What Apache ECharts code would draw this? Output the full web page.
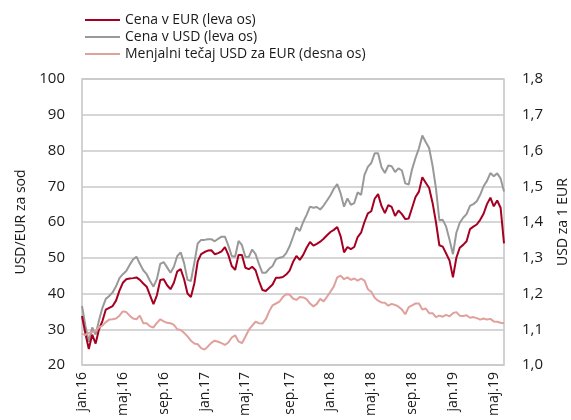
<!DOCTYPE html>
<html>
<head>
<meta charset="utf-8">
<script src="https://cdn.jsdelivr.net/npm/echarts@6/dist/echarts.min.js"></script>
<style>
  html, body { margin: 0; padding: 0; background: #fff; }
  #chart { width: 571px; height: 420px; }
</style>
</head>
<body>
<div id="chart"></div>
<script>
// one value every 10 days, starting 4 Jan 2016
var startDate = '2016-01-04';
var stepDays = 10;

// cena nafte Brent v USD za sod (leva os)
var priceUsd = [
  36.5, 31.0, 26.5, 30.5, 28.5, 32.5, 36.0, 38.5, 39.3, 40.3,
  42.0, 44.3, 45.4, 46.3, 48.0, 49.5, 50.3, 48.3, 46.5, 45.4,
  43.5, 41.9, 44.0, 48.3, 48.8, 47.3, 45.8, 47.5, 50.5, 51.5,
  48.5, 43.8, 43.5, 48.5, 54.0, 55.0, 55.0, 55.2, 55.2, 54.6,
  55.3, 55.9, 55.9, 53.4, 50.5, 50.3, 54.7, 53.5, 50.3, 50.2,
  52.3, 51.0, 48.2, 45.8, 45.8, 46.9, 47.7, 49.6, 50.0, 50.2,
  51.3, 53.2, 55.8, 58.5, 57.5, 60.0, 62.0, 64.3, 64.0, 64.2,
  63.5, 64.6, 66.0, 67.5, 69.3, 70.6, 68.0, 64.3, 66.6, 64.8,
  65.3, 68.3, 67.6, 73.2, 75.4, 76.5, 79.2, 79.2, 75.3, 73.7,
  75.8, 75.6, 74.0, 75.0, 74.4, 70.8, 70.5, 74.8, 77.9, 80.6,
  84.2, 82.4, 80.7, 75.8, 69.5, 60.5, 60.6, 58.7, 55.0, 51.0,
  57.0, 59.8, 61.2, 62.2, 64.5, 65.0, 65.8, 67.6, 70.0, 71.5,
  73.7, 72.8, 73.6, 72.2, 68.5
];

// cena v EUR za sod (leva os)
var priceEur = [
  33.7, 28.8, 24.5, 28.5, 26.0, 30.0, 32.3, 35.5, 36.0, 36.5,
  38.0, 40.8, 43.0, 44.0, 44.2, 44.3, 44.5, 43.8, 42.8, 41.9,
  39.5, 37.0, 39.5, 43.8, 44.0, 42.3, 41.2, 43.0, 46.2, 46.8,
  44.0, 40.0, 39.0, 42.8, 49.0, 51.0, 51.6, 52.0, 52.1, 51.0,
  51.3, 51.8, 53.0, 50.8, 47.7, 46.6, 50.8, 50.8, 47.2, 46.8,
  47.5, 46.5, 43.5, 41.0, 40.7, 41.6, 42.5, 44.4, 44.4, 44.6,
  45.3, 46.4, 48.8, 50.5, 49.4, 50.8, 52.8, 54.4, 53.4, 53.9,
  54.5, 55.3, 56.3, 57.2, 57.8, 58.6, 56.0, 51.5, 53.0, 52.4,
  53.0, 55.8, 57.0, 60.0, 62.4, 63.0, 66.5, 67.8, 64.5, 62.5,
  64.7, 64.2, 61.7, 63.2, 62.2, 60.8, 61.0, 64.0, 67.0, 68.5,
  72.5, 71.0, 69.5, 65.4, 60.0, 53.5, 53.1, 51.2, 49.2, 44.5,
  50.0, 52.8, 53.6, 54.6, 58.0, 58.7, 59.3, 60.6, 62.3, 65.0,
  66.8, 64.4, 66.0, 64.0, 54.0
];

// USD za 1 EUR (desna os)
var usdPerEur = [
  1.087, 1.084, 1.090, 1.092, 1.095, 1.105, 1.110, 1.120, 1.127, 1.128,
  1.130, 1.138, 1.150, 1.148, 1.138, 1.130, 1.128, 1.138, 1.117, 1.117,
  1.108, 1.105, 1.118, 1.128, 1.122, 1.118, 1.117, 1.112, 1.100, 1.098,
  1.090, 1.080, 1.068, 1.060, 1.058, 1.047, 1.043, 1.052, 1.062, 1.068,
  1.065, 1.061, 1.056, 1.063, 1.077, 1.083, 1.066, 1.061, 1.079, 1.098,
  1.110, 1.121, 1.117, 1.116, 1.128, 1.150, 1.167, 1.172, 1.177, 1.190,
  1.198, 1.197, 1.186, 1.182, 1.190, 1.189, 1.184, 1.172, 1.164, 1.171,
  1.185, 1.178, 1.191, 1.205, 1.220, 1.245, 1.250, 1.240, 1.245, 1.238,
  1.242, 1.236, 1.242, 1.236, 1.212, 1.205, 1.188, 1.180, 1.175, 1.174,
  1.166, 1.171, 1.168, 1.163, 1.155, 1.142, 1.162, 1.167, 1.172, 1.172,
  1.155, 1.158, 1.145, 1.145, 1.134, 1.138, 1.135, 1.140, 1.136, 1.145,
  1.148, 1.138, 1.137, 1.139, 1.132, 1.134, 1.131, 1.127, 1.130, 1.127,
  1.129, 1.122, 1.121, 1.118, 1.117
];

var tickDates = ['2016-01-01', '2016-05-01', '2016-09-01', '2017-01-01', '2017-05-01', '2017-09-01',
                 '2018-01-01', '2018-05-01', '2018-09-01', '2019-01-01', '2019-05-01'];
var tickLabels = ['jan.16', 'maj.16', 'sep.16', 'jan.17', 'maj.17', 'sep.17',
                  'jan.18', 'maj.18', 'sep.18', 'jan.19', 'maj.19'];

var DAY = 86400000;
var t0 = new Date(startDate + 'T00:00:00Z').getTime();
var categories = priceUsd.map(function (v, i) {
    return new Date(t0 + i * stepDays * DAY).toISOString().slice(0, 10);
});
// label sits on the sample nearest to the 1st of the month
var labelAt = {};
tickDates.forEach(function (d, k) {
    var idx = Math.max(0, Math.round((new Date(d + 'T00:00:00Z').getTime() - t0) / (stepDays * DAY)));
    labelAt[idx] = tickLabels[k];
});

var font = '"Open Sans", "Noto Sans", sans-serif';
var textColor = '#1a1a1a';

var chart = echarts.init(document.getElementById('chart'), null, { renderer: 'canvas' });
var option = {
    animation: false,
    backgroundColor: '#fff',
    textStyle: { fontFamily: font },
    grid: {
        left: 82, right: 67, top: 79, bottom: 55,
        show: true, borderColor: '#c4c4c4', borderWidth: 1.5,
        outerBoundsMode: 'none'
    },
    legend: {
        orient: 'vertical',
        left: 80, top: 8,
        itemWidth: 35, itemHeight: 2, itemGap: 3,
        icon: 'rect',
        data: ['Cena v EUR (leva os)', 'Cena v USD (leva os)', 'Menjalni tečaj USD za EUR (desna os)'],
        textStyle: { fontSize: 14, color: textColor, fontFamily: font }
    },
    xAxis: {
        type: 'category',
        data: categories,
        boundaryGap: false,
        axisLine: { show: false },
        axisTick: { show: false },
        splitLine: { show: false },
        axisLabel: {
            rotate: 90,
            margin: 7,
            fontSize: 14,
            color: textColor,
            fontFamily: font,
            interval: function (index) { return labelAt[index] !== undefined; },
            formatter: function (value, index) { return labelAt[index] || ''; }
        }
    },
    yAxis: [
        {
            type: 'value',
            min: 20, max: 100, interval: 10,
            name: 'USD/EUR za sod',
            nameLocation: 'middle',
            nameRotate: 90,
            nameGap: 52,
            nameTextStyle: { fontSize: 14, color: textColor, fontFamily: font },
            axisLine: { show: false },
            axisTick: { show: false },
            axisLabel: { fontSize: 15, color: textColor, margin: 17, fontFamily: font },
            splitLine: { lineStyle: { color: '#c8c8c8', width: 1.5 } }
        },
        {
            type: 'value',
            min: 1.0, max: 1.8, interval: 0.1,
            name: 'USD za 1 EUR',
            nameLocation: 'middle',
            nameRotate: 90,
            nameGap: 52,
            nameTextStyle: { fontSize: 14, color: textColor, fontFamily: font },
            axisLine: { show: false },
            axisTick: { show: false },
            splitLine: { show: false },
            axisLabel: {
                fontSize: 15, color: textColor, margin: 18, fontFamily: font,
                formatter: function (v) { return v.toFixed(1).replace('.', ','); }
            }
        }
    ],
    series: [
        {
            name: 'Cena v USD (leva os)',
            type: 'line',
            data: priceUsd,
            showSymbol: false,
            color: '#999999',
            lineStyle: { width: 2, color: '#999999' }
        },
        {
            name: 'Cena v EUR (leva os)',
            type: 'line',
            data: priceEur,
            showSymbol: false,
            color: '#a50021',
            lineStyle: { width: 2, color: '#a50021' }
        },
        {
            name: 'Menjalni tečaj USD za EUR (desna os)',
            type: 'line',
            yAxisIndex: 1,
            data: usdPerEur,
            showSymbol: false,
            color: '#e0a09c',
            lineStyle: { width: 2, color: '#e0a09c' }
        }
    ]
};
chart.setOption(option);
</script>
</body>
</html>
